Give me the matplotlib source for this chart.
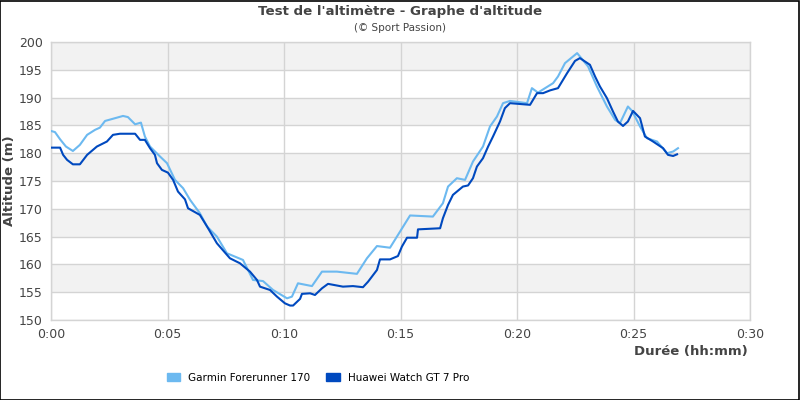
import matplotlib
matplotlib.use("Agg")
import matplotlib.pyplot as plt
from matplotlib.patches import Rectangle
from matplotlib.patches import Patch

# Data (time in minutes, altitude in m)
garmin_t = [0.00, 0.17, 0.39, 0.64, 0.94, 1.24, 1.55, 1.89, 2.10, 2.32, 2.75, 3.09, 3.30, 3.61,
            3.86, 4.03, 4.25, 4.68, 4.98, 5.32, 5.67, 5.97, 6.39, 6.70, 7.12, 7.55, 8.24, 8.67,
            9.10, 9.53, 10.13, 10.34, 10.60, 11.20, 11.63, 12.27, 13.13, 13.56, 13.99, 14.55,
            14.98, 15.41, 16.39, 16.82, 17.04, 17.42, 17.77, 18.11, 18.54, 18.84, 19.14, 19.40,
            19.70, 20.43, 20.64, 20.90, 21.55, 21.76, 22.06, 22.58, 22.70, 23.05, 23.43, 23.86,
            24.21, 24.42, 24.76, 24.94, 25.28, 25.58, 26.01, 26.44, 26.70, 26.91]
garmin_alt = [184.0, 183.8, 182.5, 181.2, 180.4, 181.5, 183.3, 184.2, 184.6, 185.8, 186.3, 186.7,
              186.5, 185.2, 185.5, 183.0, 181.2, 179.4, 178.2, 175.2, 173.7, 171.6, 169.2, 166.8,
              165.0, 162.0, 160.8, 157.2, 157.0, 155.4, 153.9, 154.2, 156.6, 156.1, 158.7, 158.7,
              158.3, 161.1, 163.3, 163.0, 165.9, 168.8, 168.6, 171.0, 174.0, 175.5, 175.2, 178.5,
              181.2, 184.8, 186.6, 189.0, 189.4, 189.0, 191.7, 190.9, 192.6, 193.8, 196.2, 198.0,
              197.4, 195.6, 192.0, 188.4, 186.0, 185.4, 188.4, 187.6, 184.8, 182.7, 182.1, 180.0,
              180.3, 180.9]

huawei_t = [0.00, 0.39, 0.52, 0.69, 0.94, 1.24, 1.55, 1.97, 2.40, 2.66, 2.96, 3.61, 3.82, 4.03,
            4.25, 4.46, 4.55, 4.76, 5.02, 5.24, 5.45, 5.75, 5.88, 6.39, 6.70, 7.12, 7.68, 8.11,
            8.54, 8.84, 8.97, 9.40, 9.70, 10.04, 10.26, 10.39, 10.69, 10.77, 11.12, 11.33, 11.63,
            11.89, 12.53, 12.96, 13.39, 13.61, 13.99, 14.12, 14.55, 14.89, 15.06, 15.28, 15.71,
            15.75, 16.70, 16.82, 17.04, 17.25, 17.68, 17.90, 18.11, 18.28, 18.54, 18.76, 18.97,
            19.27, 19.48, 19.70, 20.56, 20.86, 21.12, 21.42, 21.76, 22.15, 22.49, 22.70, 23.13,
            23.35, 23.56, 23.86, 24.12, 24.33, 24.55, 24.76, 24.98, 25.28, 25.49, 25.84, 26.27,
            26.48, 26.70, 26.87]
huawei_alt = [181.0, 181.0, 179.7, 178.8, 178.0, 178.0, 179.7, 181.2, 182.1, 183.3, 183.5, 183.5,
              182.4, 182.4, 180.9, 179.7, 178.2, 177.0, 176.5, 175.2, 173.1, 171.7, 170.1, 168.9,
              166.8, 163.8, 161.1, 160.2, 158.7, 157.2, 156.0, 155.4, 154.2, 153.0, 152.6, 152.6,
              153.8, 154.7, 154.8, 154.5, 155.7, 156.5, 156.0, 156.1, 155.9, 156.9, 159.0, 160.9,
              160.9, 161.5, 163.2, 164.8, 164.8, 166.3, 166.5, 168.3, 170.7, 172.5, 174.0, 174.2,
              175.5, 177.6, 179.1, 181.2, 183.0, 185.7, 188.1, 189.0, 188.7, 190.8, 190.8, 191.3,
              191.7, 194.4, 196.6, 197.1, 195.9, 193.8, 192.0, 189.9, 187.5, 185.7, 184.9, 185.7,
              187.6, 186.3, 183.0, 182.1, 180.9, 179.7, 179.5, 179.8]

series_names = ["Garmin Forerunner 170", "Huawei Watch GT 7 Pro"]
series_colors = ["#6cb9f0", "#0049bf"]
x_ticks = [0, 5, 10, 15, 20, 25, 30]
x_tick_labels = ["0:00", "0:05", "0:10", "0:15", "0:20", "0:25", "0:30"]
y_ticks = [150, 155, 160, 165, 170, 175, 180, 185, 190, 195, 200]

title = "Test de l'altimètre - Graphe d'altitude"
subtitle = "(© Sport Passion)"
text_color = "#444444"

fig = plt.figure(figsize=(8, 4), dpi=100)
ax = fig.add_axes([51/800, 80/400, 699/800, 278/400])

# alternating bands
for i, y0 in enumerate(y_ticks[:-1]):
    if i % 2 == 1:
        ax.axhspan(y0, y0 + 5, color="#f2f2f2", zorder=0, lw=0)

ax.plot(garmin_t, garmin_alt, color=series_colors[0], lw=1.5, zorder=3)
ax.plot(huawei_t, huawei_alt, color=series_colors[1], lw=1.5, zorder=4)

ax.set_xlim(0, 30)
ax.set_ylim(150, 200)
ax.set_xticks(x_ticks)
ax.set_xticklabels(x_tick_labels)
ax.set_yticks(y_ticks)
ax.grid(True, color="#d4d4d4", lw=1, zorder=1)
ax.set_axisbelow(True)
for s in ax.spines.values():
    s.set_color("#d4d4d4")
    s.set_linewidth(1)
ax.tick_params(length=0, labelsize=9, colors=text_color, pad=6)

fig.text(400/800, 1 - 11/400, title, ha="center", va="center", fontsize=9.6,
         fontweight="bold", color=text_color)
fig.text(400/800, 1 - 28/400, subtitle, ha="center", va="center", fontsize=7.5,
         color=text_color)
fig.text(10/800, 1 - 181/400, "Altitude (m)", rotation=90, ha="center", va="center",
         fontsize=9.5, fontweight="bold", color=text_color)
fig.text(748/800, 1 - 352/400, "Durée (hh:mm)", ha="right", va="center", fontsize=9.5,
         fontweight="bold", color=text_color)

handles = [Patch(facecolor=c, edgecolor=c, label=n) for c, n in zip(series_colors, series_names)]
fig.legend(handles=handles, loc="center", bbox_to_anchor=(318/800, 1 - 378/400), ncol=2,
           frameon=False, fontsize=7.5, handlelength=1.3, handleheight=0.8,
           columnspacing=1.5, handletextpad=0.8)

fig.patches.append(Rectangle((0.0005, 0.001), 0.998, 0.997, transform=fig.transFigure,
                             fill=False, edgecolor="black", lw=1.2))

fig.savefig("out.png", dpi=100)
